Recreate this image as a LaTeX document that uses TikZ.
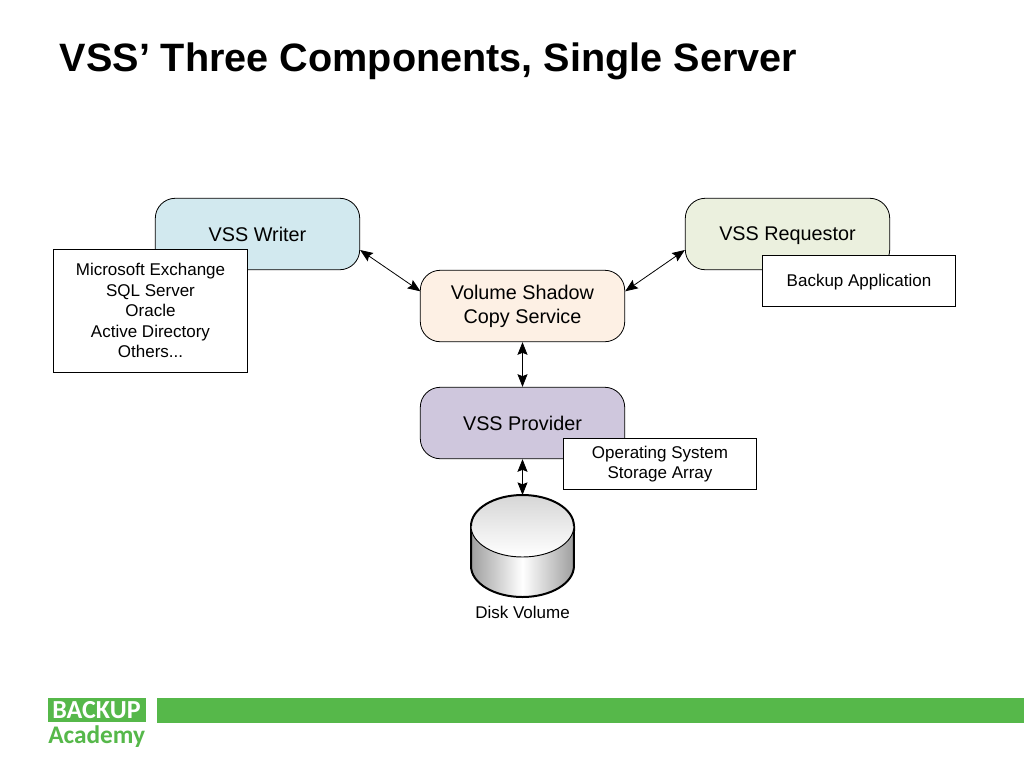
\documentclass[tikz,border=0pt]{standalone}
\usepackage{fontspec}
\setmainfont{Liberation Sans}
\newfontfamily\logofont{Carlito}
\usetikzlibrary{arrows.meta,calc}
\definecolor{brandgreen}{HTML}{56B84A}
\definecolor{writerfill}{HTML}{D2E9EF}
\definecolor{reqfill}{HTML}{EBF0DE}
\definecolor{svcfill}{HTML}{FDF0E4}
\definecolor{provfill}{HTML}{CFC7DD}
\tikzset{
  x=0.75pt,y=-0.75pt,
  compbox/.style={draw=black,line width=0.6pt,rounded corners=15pt,minimum width=153.3pt,minimum height=53.6pt,inner sep=0pt,align=center,font=\fontsize{14.85}{18}\selectfont},
  notebox/.style={draw=black,line width=0.5pt,fill=white,minimum width=145.2pt,inner sep=0pt,align=center,font=\fontsize{12.75}{15.4}\selectfont},
  link/.style={draw=black,line width=0.6pt,{Stealth[length=9.5pt,width=7.5pt,inset=1.5pt]}-{Stealth[length=9.5pt,width=7.5pt,inset=1.5pt]}},
}
\begin{document}
\begin{tikzpicture}
\useasboundingbox (0,0) rectangle (1024,768);
\fill[white] (0,0) rectangle (1024,768);
\node[anchor=west,inner sep=0pt,font=\bfseries\fontsize{29.7}{34}\selectfont] (title) at (59.5,61) {VSS’ Three Components, Single Server};
\node[compbox,fill=writerfill] (writer) at (257.5,234) {VSS Writer};
\node[compbox,fill=reqfill,text depth=0pt] (req) at (787.5,234) {VSS Requestor};
\node[compbox,fill=svcfill] (svc) at (522.5,306) {Volume Shadow\\Copy Service};
\node[compbox,fill=provfill] (prov) at (522.5,423) {VSS Provider};
\node[notebox,minimum height=92pt] (apps) at (150.5,310.5) {Microsoft Exchange\\SQL Server\\Oracle\\Active Directory\\Others...};
\node[notebox,minimum height=38pt,text depth=0pt] (backup) at (859,280.5) {Backup Application};
\node[notebox,minimum height=38.6pt] (os) at (660,464) {Operating System\\Storage Array};
% disk
\coordinate (diskc) at (522.5,526);
\begin{scope}
\clip (471,526) -- (471,566) arc[start angle=180,end angle=360,x radius=38.6pt,y radius=23.25pt] -- (574,526) -- cycle;
\shade[left color=black!38,right color=black!38,middle color=white] (471,526) rectangle (574,600);
\end{scope}
\draw[line width=1.5pt] (471,526) -- (471,566) arc[start angle=180,end angle=360,x radius=38.6pt,y radius=23.25pt] -- (574,526);
\shade[top color=black!16,bottom color=white] (diskc) ellipse[x radius=38.6pt,y radius=23.25pt];
\draw[line width=0.7pt] (471,526) arc[start angle=180,end angle=360,x radius=38.6pt,y radius=23.25pt];
\draw[line width=1.5pt] (471,526) arc[start angle=180,end angle=0,x radius=38.6pt,y radius=23.25pt];
\coordinate (disktop) at (522.5,495);
\node[inner sep=0pt,font=\fontsize{12.75}{15}\selectfont] (disklabel) at (522.5,612) {Disk Volume};
% connectors
\draw[link] ([yshift=-12pt]writer.east) -- ([xshift=0.4pt,yshift=11pt]svc.west);
\draw[link] ([yshift=-12pt]req.west) -- ([yshift=11pt]svc.east);
\draw[link] (svc.south) -- (prov.north);
\draw[link] (prov.south) -- (disktop);
% footer
\fill[brandgreen] (157,698) rectangle (1024,722.5);
\node[fill=brandgreen,text=white,minimum width=73.5pt,minimum height=17.5pt,inner sep=0pt,font=\logofont\bfseries\fontsize{19.5}{19.5}\selectfont] (logotop) at (96.5,710) {BACKUP};
\node[anchor=north west,inner sep=0pt,text=brandgreen,font=\logofont\bfseries\fontsize{19}{19}\selectfont] (logobottom) at (48,725) {Academy};
\end{tikzpicture}
\end{document}
